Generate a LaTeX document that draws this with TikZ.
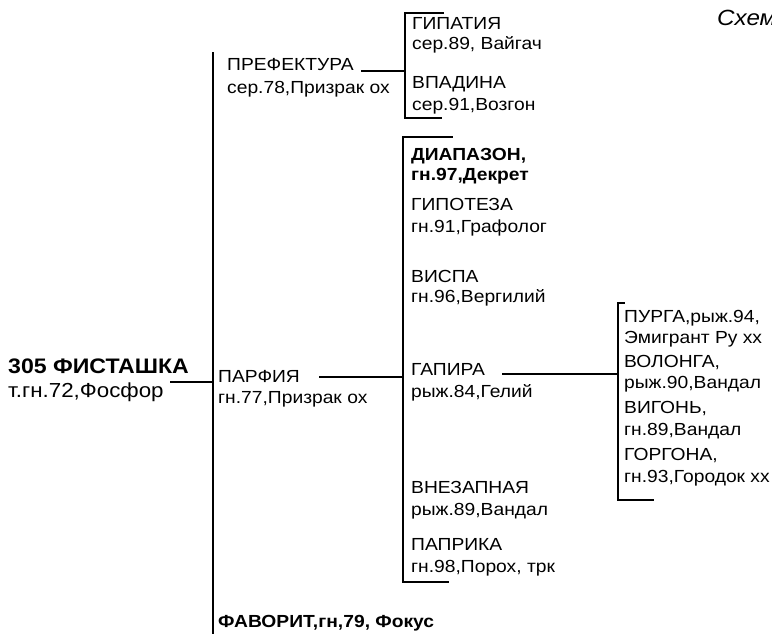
\documentclass[tikz,border=0pt]{standalone}
\usepackage{fontspec}
\setmainfont{Liberation Sans}[FakeStretch=1.1]
\begin{document}
\begin{tikzpicture}[x=1pt,y=-1pt,
  lbl/.style={anchor=base west, inner sep=0pt, font=\fontsize{17.5}{20}\selectfont},
  lblb/.style={anchor=base west, inner sep=0pt, font=\bfseries\fontsize{17.5}{20}\selectfont},
  rootb/.style={anchor=base west, inner sep=0pt, font=\bfseries\fontsize{21}{24}\selectfont},
  rootn/.style={anchor=base west, inner sep=0pt, font=\fontsize{20.3}{24}\selectfont},
  ttl/.style={anchor=base west, inner sep=0pt, font=\itshape\fontsize{22}{24}\selectfont},
  ln/.style={line width=1.8pt, line cap=rect}]
\useasboundingbox (0,0) rectangle (772,633);
\clip (0,0) rectangle (772,633);

% titles (cut off at the edge, as in the reference)
\node[ttl] (t1) at (717,25) {Схема};
\node[ttl] (t2) at (712,650) {Схема};

% root
\node[rootb] (root1) at (8,373) {305 ФИСТАШКА};
\node[rootn] (root2) at (8,397) {т.гн.72,Фосфор};

% level 1
\node[lbl] (pref1) at (227,70) {ПРЕФЕКТУРА};
\node[lbl] (pref2) at (227,93) {сер.78,Призрак ох};
\node[lbl] (parf1) at (218,382) {ПАРФИЯ};
\node[lbl] (parf2) at (218,403) {гн.77,Призрак ох};
\node[lblb] (fav) at (218,627) {ФАВОРИТ,гн,79, Фокус};

% level 2 (prefektura)
\node[lbl] (gip1) at (412,29) {ГИПАТИЯ};
\node[lbl] (gip2) at (412,49) {сер.89, Вайгач};
\node[lbl] (vpa1) at (412,88) {ВПАДИНА};
\node[lbl] (vpa2) at (412,110) {сер.91,Возгон};

% level 2 (parfiya)
\node[lblb] (dia1) at (411,160) {ДИАПАЗОН,};
\node[lblb] (dia2) at (411,180) {гн.97,Декрет};
\node[lbl] (gpt1) at (411,210) {ГИПОТЕЗА};
\node[lbl] (gpt2) at (411,232) {гн.91,Графолог};
\node[lbl] (vis1) at (411,282) {ВИСПА};
\node[lbl] (vis2) at (411,302) {гн.96,Вергилий};
\node[lbl] (gap1) at (411,375) {ГАПИРА};
\node[lbl] (gap2) at (411,397) {рыж.84,Гелий};
\node[lbl] (vne1) at (411,493) {ВНЕЗАПНАЯ};
\node[lbl] (vne2) at (411,515) {рыж.89,Вандал};
\node[lbl] (pap1) at (411,550) {ПАПРИКА};
\node[lbl] (pap2) at (411,572) {гн.98,Порох, трк};

% level 3 (gapira)
\node[lbl] (pur1) at (624,322) {ПУРГА,рыж.94,};
\node[lbl] (pur2) at (624,343) {Эмигрант Ру хх};
\node[lbl] (vol1) at (624,367) {ВОЛОНГА,};
\node[lbl] (vol2) at (624,388) {рыж.90,Вандал};
\node[lbl] (vig1) at (624,413) {ВИГОНЬ,};
\node[lbl] (vig2) at (624,435) {гн.89,Вандал};
\node[lbl] (gor1) at (624,460) {ГОРГОНА,};
\node[lbl] (gor2) at (624,482) {гн.93,Городок хх};

% trunk
\coordinate (trT) at (213,53);
\coordinate (trB) at (213,640);
\coordinate (rootE) at (171,382);
\coordinate (trR) at (213,382);
\draw[ln] (trT) -- (trB);
\draw[ln] (rootE) -- (trR);

% prefektura -> bracket 1
\coordinate (prefE) at (362,71);
\coordinate (b1M) at (405,71);
\coordinate (b1T) at (405,13);
\coordinate (b1B) at (405,118);
\coordinate (b1Tt) at (443,13);
\coordinate (b1Bt) at (441,118);
\draw[ln] (prefE) -- (b1M);
\draw[ln] (b1Tt) -- (b1T) -- (b1B) -- (b1Bt);

% parfiya -> bracket 2
\coordinate (parfE) at (320,377);
\coordinate (b2M) at (403,377);
\coordinate (b2T) at (403,137);
\coordinate (b2B) at (403,582);
\coordinate (b2Tt) at (452,137);
\coordinate (b2Bt) at (448,582);
\draw[ln] (parfE) -- (b2M);
\draw[ln] (b2Tt) -- (b2T) -- (b2B) -- (b2Bt);

% gapira -> bracket 3
\coordinate (gapE) at (503,374);
\coordinate (b3M) at (618,374);
\coordinate (b3T) at (618,303);
\coordinate (b3B) at (618,500);
\coordinate (b3Tt) at (624,303);
\coordinate (b3Bt) at (653,500);
\draw[ln] (gapE) -- (b3M);
\draw[ln] (b3Tt) -- (b3T) -- (b3B) -- (b3Bt);
\end{tikzpicture}
\end{document}
